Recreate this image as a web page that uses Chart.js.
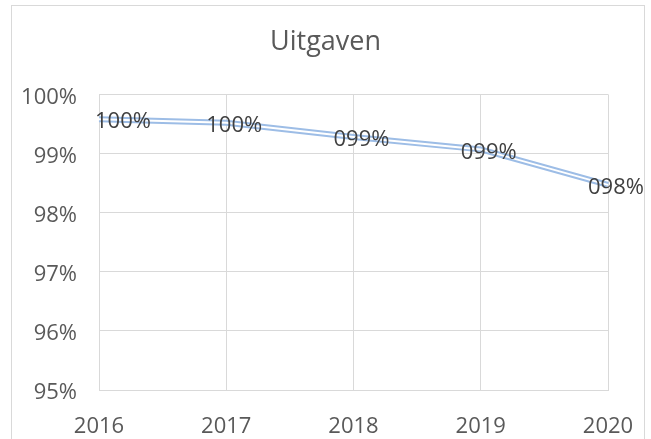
<!DOCTYPE html>
<html>
<head>
<meta charset="utf-8">
<script src="https://cdn.jsdelivr.net/npm/chart.js@4"></script>
<style>
	html, body { margin: 0; padding: 0; background: #fff; overflow: hidden; }
	#frame { position: absolute; left: 11px; top: 5px; width: 632px; height: 500px; border: 1px solid #d9d9d9; }
	#wrap { position: absolute; left: 0; top: 0; width: 651px; height: 439px; }
</style>
</head>
<body>
<div id="frame"></div>
<div id="wrap"><canvas id="chart"></canvas></div>
<script>
const years = ["2016", "2017", "2018", "2019", "2020"];
const uitgaven = [99.58, 99.52, 99.28, 99.07, 98.47];
const yTicks = [95, 96, 97, 98, 99, 100];

const fontName = "'Open Sans', sans-serif";

// Excel style labels "100%", "099%" on top of the line
const valueLabels = {
	id: "valueLabels",
	afterDatasetsDraw(chart) {
		const ctx = chart.ctx;
		const meta = chart.getDatasetMeta(0);
		const area = chart.chartArea;
		ctx.save();
		ctx.font = "22px " + fontName;
		ctx.fillStyle = "#404040";
		ctx.textBaseline = "middle";
		ctx.textAlign = "left";
		meta.data.forEach((pt, i) => {
			const txt = String(Math.round(uitgaven[i])).padStart(3, "0") + "%";
			const w = ctx.measureText(txt).width;
			let left = pt.x + 8 - w / 2;
			if (left < area.left - 4) left = area.left - 4;
			ctx.fillText(txt, left, pt.y + 3);
		});
		ctx.restore();
	},
};

new Chart(document.getElementById("chart"), {
	type: "line",
	data: {
		labels: years,
		datasets: [
			// inner white stroke (drawn last, on top)
			{
				data: uitgaven,
				borderColor: "#ffffff",
				borderWidth: 2,
				pointRadius: 0,
				tension: 0,
			},
			{
				data: uitgaven,
				borderColor: "#9dbde6",
				borderWidth: 6,
				pointRadius: 0,
				tension: 0,
			},
		],
	},
	options: {
		responsive: true,
		maintainAspectRatio: false,
		animation: false,
		layout: { padding: 0 },
		plugins: {
			legend: { display: false },
			tooltip: { enabled: false },
			title: {
				display: true,
				text: "Uitgaven",
				color: "#595959",
				font: { family: fontName, size: 27, weight: "normal" },
				padding: { top: 26, bottom: 36 },
			},
		},
		scales: {
			x: {
				offset: false,
				grid: { color: "#d9d9d9", drawTicks: false },
				border: { color: "#d9d9d9" },
				ticks: {
					color: "#595959",
					padding: 24,
					maxRotation: 0,
					font: { family: fontName, size: 22 },
				},
				afterFit(scale) {
					scale.height = 49;
					scale.paddingLeft = 0;
					scale.paddingRight = 0;
				},
			},
			y: {
				min: 95,
				max: 100,
				afterBuildTicks(scale) {
					scale.ticks = yTicks.map((v) => ({ value: v }));
				},
				grid: { color: "#d9d9d9", drawTicks: false },
				border: { color: "#d9d9d9" },
				ticks: {
					color: "#595959",
					padding: 22,
					labelOffset: 3,
					font: { family: fontName, size: 22 },
					callback: (v) => v + "%",
				},
				afterFit(scale) {
					scale.width = 99;
				},
			},
			// empty right margin so the title stays centred on the whole chart
			yRight: {
				position: "right",
				min: 95,
				max: 100,
				grid: { display: false, drawTicks: false },
				border: { display: false },
				ticks: { display: false },
				afterFit(scale) {
					scale.width = 43;
				},
			},
		},
	},
	plugins: [valueLabels],
});
</script>
</body>
</html>
